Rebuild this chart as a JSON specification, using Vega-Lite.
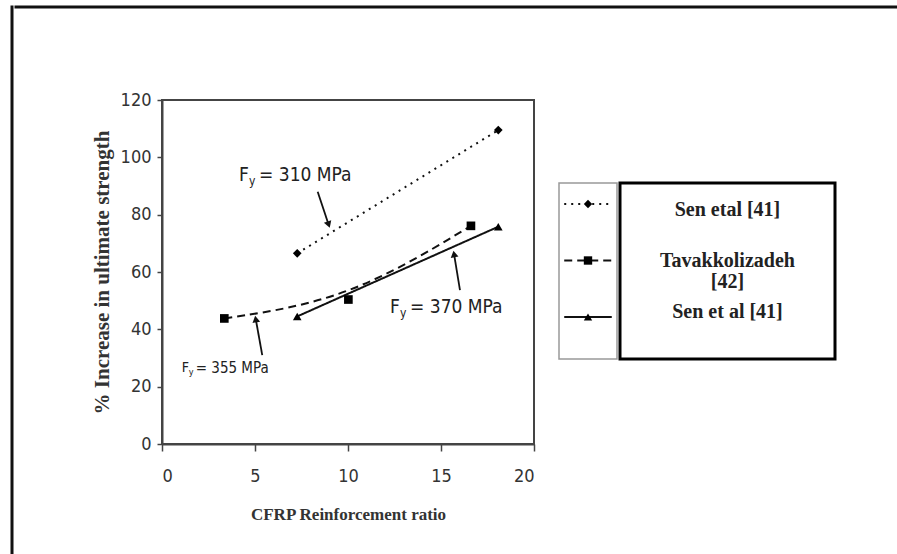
{
  "$schema": "https://vega.github.io/schema/vega-lite/v6.json",
  "background": "white",
  "padding": {"left": 10, "top": 5, "right": 0, "bottom": 0},
  "datasets": {
    "points": [
      {"series": "Sen etal [41]", "ratio": 7.27, "increase": 66.5},
      {"series": "Sen etal [41]", "ratio": 18.08, "increase": 109.5},
      {"series": "Tavakkolizadeh [42]", "ratio": 3.35, "increase": 43.8},
      {"series": "Tavakkolizadeh [42]", "ratio": 10.02, "increase": 50.4},
      {"series": "Tavakkolizadeh [42]", "ratio": 16.61, "increase": 76.1},
      {"series": "Sen et al [41]", "ratio": 7.27, "increase": 44.5},
      {"series": "Sen et al [41]", "ratio": 18.08, "increase": 75.8}
    ],
    "notes": [
      {"ratio": 4.14, "increase": 93.8, "rest": "= 310 MPa"},
      {"ratio": 12.26, "increase": 47.85, "rest": "= 370 MPa"},
      {"ratio": 1.06, "increase": 26.4, "rest": "= 355 MPa"}
    ],
    "arrows": [
      {"note": "310", "ratio": 8.37, "increase": 88.0, "ratio2": 8.96, "increase2": 76.5},
      {"note": "370", "ratio": 16.02, "increase": 53.7, "ratio2": 15.70, "increase2": 66.3},
      {"note": "355", "ratio": 5.39, "increase": 31.0, "ratio2": 5.04, "increase2": 43.6}
    ],
    "legend": [
      {"series": "Sen etal [41]", "label": "Sen etal [41]"},
      {"series": "Tavakkolizadeh [42]", "label": "Tavakkolizadeh\n[42]"},
      {"series": "Sen et al [41]", "label": "Sen et al  [41]"}
    ],
    "empty": []
  },
  "spacing": 0,
  "hconcat": [
    {
      "width": 0.01,
      "height": 548,
      "data": {"name": "empty"},
      "view": {"stroke": "#111", "strokeWidth": 3},
      "mark": "point"
    },
    {
      "spacing": 81,
      "vconcat": [
        {
          "width": 885,
          "height": 0.01,
          "data": {"name": "empty"},
          "view": {"stroke": "#111", "strokeWidth": 3},
          "mark": "point"
        },
        {
          "spacing": 22,
          "hconcat": [
            {
              "width": 52,
              "height": 1,
              "data": {"name": "empty"},
              "view": {"stroke": null},
              "mark": "point"
            },
            {
              "width": 372,
              "height": 344,
              "view": {"stroke": "#444", "strokeWidth": 2},
              "encoding": {
                "x": {
                  "field": "ratio", "type": "quantitative",
                  "scale": {"domain": [0, 20], "nice": false},
                  "axis": {
                    "values": [0, 5, 10, 15, 20], "grid": false, "tickSize": 7, "tickWidth": 1.5,
                    "tickColor": "#444", "domainColor": "#444", "domainWidth": 2,
                    "labelFont": "Liberation Sans Narrow, Arial Narrow, DejaVu Sans Condensed, sans-serif",
                    "labelFontSize": 18, "labelColor": "#333", "labelPadding": 16,
                    "title": "CFRP Reinforcement ratio", "titleFont": "Liberation Serif",
                    "titleFontWeight": "bold", "titleFontSize": 17, "titleColor": "#333", "titlePadding": 21
                  }
                },
                "y": {
                  "field": "increase", "type": "quantitative",
                  "scale": {"domain": [0, 120], "nice": false},
                  "axis": {
                    "values": [0, 20, 40, 60, 80, 100, 120], "grid": false, "tickSize": 5, "tickWidth": 1.5,
                    "tickColor": "#444", "domainColor": "#444", "domainWidth": 2,
                    "labelFont": "Liberation Sans Narrow, Arial Narrow, DejaVu Sans Condensed, sans-serif",
                    "labelFontSize": 18, "labelColor": "#333", "labelPadding": 6,
                    "title": "% Increase in ultimate strength", "titleFont": "Liberation Serif",
                    "titleFontWeight": "bold", "titleFontSize": 21, "titleColor": "#333", "titlePadding": 8
                  }
                }
              },
              "layer": [
                {
                  "data": {"name": "points"},
                  "mark": {"type": "line", "color": "#111", "strokeWidth": 2, "interpolate": "basis"},
                  "encoding": {
                    "strokeDash": {
                      "field": "series", "type": "nominal", "legend": null,
                      "scale": {"domain": ["Sen etal [41]", "Tavakkolizadeh [42]", "Sen et al [41]"], "range": [[2, 5], [8, 5], [1, 0]]}
                    }
                  }
                },
                {
                  "data": {"name": "points"},
                  "mark": {"type": "point", "filled": true, "color": "#000", "opacity": 1, "size": 75},
                  "encoding": {
                    "shape": {
                      "field": "series", "type": "nominal", "legend": null,
                      "scale": {"domain": ["Sen etal [41]", "Tavakkolizadeh [42]", "Sen et al [41]"], "range": ["diamond", "square", "triangle-up"]}
                    }
                  }
                },
                {
                  "data": {"name": "arrows"},
                  "mark": {"type": "rule", "color": "#111", "strokeWidth": 1.8},
                  "encoding": {
                    "x2": {"field": "ratio2"},
                    "y2": {"field": "increase2"}
                  }
                },
                {
                  "data": {"name": "arrows"},
                  "transform": [{"filter": "datum.note == '310'"}],
                  "mark": {"type": "point", "shape": "triangle-up", "filled": true, "color": "#111", "opacity": 1, "size": 60, "angle": 161},
                  "encoding": {
                    "x": {"field": "ratio2", "type": "quantitative"},
                    "y": {"field": "increase2", "type": "quantitative"}
                  }
                },
                {
                  "data": {"name": "arrows"},
                  "transform": [{"filter": "datum.note != '310'"}],
                  "mark": {"type": "point", "shape": "triangle-up", "filled": true, "color": "#111", "opacity": 1, "size": 60, "angle": 350},
                  "encoding": {
                    "x": {"field": "ratio2", "type": "quantitative"},
                    "y": {"field": "increase2", "type": "quantitative"}
                  }
                },
                {
                  "data": {"name": "notes"},
                  "transform": [{"filter": "datum.rest != '= 355 MPa'"}],
                  "mark": {"type": "text", "text": "F", "align": "left", "baseline": "middle", "fontSize": 19, "color": "#222",
                           "font": "Liberation Sans Narrow, Arial Narrow, DejaVu Sans Condensed, sans-serif"}
                },
                {
                  "data": {"name": "notes"},
                  "transform": [{"filter": "datum.rest != '= 355 MPa'"}],
                  "mark": {"type": "text", "text": "y", "align": "left", "baseline": "middle", "fontSize": 12, "dx": 10, "dy": 6, "color": "#222",
                           "font": "Liberation Sans Narrow, Arial Narrow, DejaVu Sans Condensed, sans-serif"}
                },
                {
                  "data": {"name": "notes"},
                  "transform": [{"filter": "datum.rest != '= 355 MPa'"}],
                  "mark": {"type": "text", "align": "left", "baseline": "middle", "fontSize": 19, "dx": 20, "color": "#222",
                           "font": "Liberation Sans Narrow, Arial Narrow, DejaVu Sans Condensed, sans-serif"},
                  "encoding": {"text": {"field": "rest"}}
                },
                {
                  "data": {"name": "notes"},
                  "transform": [{"filter": "datum.rest == '= 355 MPa'"}],
                  "mark": {"type": "text", "text": "F", "align": "left", "baseline": "middle", "fontSize": 14, "color": "#222",
                           "font": "Liberation Sans Narrow, Arial Narrow, DejaVu Sans Condensed, sans-serif"}
                },
                {
                  "data": {"name": "notes"},
                  "transform": [{"filter": "datum.rest == '= 355 MPa'"}],
                  "mark": {"type": "text", "text": "y", "align": "left", "baseline": "middle", "fontSize": 9, "dx": 7, "dy": 4, "color": "#222",
                           "font": "Liberation Sans Narrow, Arial Narrow, DejaVu Sans Condensed, sans-serif"}
                },
                {
                  "data": {"name": "notes"},
                  "transform": [{"filter": "datum.rest == '= 355 MPa'"}],
                  "mark": {"type": "text", "align": "left", "baseline": "middle", "fontSize": 15, "dx": 14, "color": "#222",
                           "font": "Liberation Sans Narrow, Arial Narrow, DejaVu Sans Condensed, sans-serif"},
                  "encoding": {"text": {"field": "rest"}}
                }
              ]
            },
            {
              "spacing": 10,
              "vconcat": [
                {
                  "width": 1,
                  "height": 71,
                  "data": {"name": "empty"},
                  "view": {"stroke": null},
                  "mark": "point"
                },
                {
                  "spacing": 0,
                  "hconcat": [
                    {
                      "width": 58,
                      "height": 176,
                      "data": {"name": "legend"},
                      "view": {"stroke": "#999", "strokeWidth": 1.5},
                      "encoding": {
                        "y": {
                          "field": "series", "type": "nominal", "axis": null,
                          "scale": {"type": "point", "padding": 0, "domain": ["Sen etal [41]", "Tavakkolizadeh [42]", "Sen et al [41]"], "range": [21, 134]}
                        }
                      },
                      "layer": [
                        {
                          "mark": {"type": "rule", "color": "#111", "strokeWidth": 2},
                          "encoding": {
                            "x": {"datum": 0.09, "type": "quantitative", "scale": {"domain": [0, 1]}, "axis": null},
                            "x2": {"datum": 0.91},
                            "strokeDash": {
                              "field": "series", "type": "nominal", "legend": null,
                              "scale": {"domain": ["Sen etal [41]", "Tavakkolizadeh [42]", "Sen et al [41]"], "range": [[2, 5], [8, 5], [1, 0]]}
                            }
                          }
                        },
                        {
                          "mark": {"type": "point", "filled": true, "color": "#000", "opacity": 1, "size": 70},
                          "encoding": {
                            "x": {"datum": 0.5, "type": "quantitative", "scale": {"domain": [0, 1]}, "axis": null},
                            "shape": {
                              "field": "series", "type": "nominal", "legend": null,
                              "scale": {"domain": ["Sen etal [41]", "Tavakkolizadeh [42]", "Sen et al [41]"], "range": ["diamond", "square", "triangle-up"]}
                            }
                          }
                        }
                      ]
                    },
                    {
                      "width": 215,
                      "height": 176,
                      "data": {"name": "legend"},
                      "view": {"stroke": "#000", "strokeWidth": 3},
                      "mark": {"type": "text", "font": "Liberation Serif", "fontWeight": "bold", "fontSize": 20, "lineBreak": "\n", "lineHeight": 21, "color": "#222"},
                      "encoding": {
                        "text": {"field": "label"},
                        "x": {"datum": 0.5, "type": "quantitative", "scale": {"domain": [0, 1]}, "axis": null},
                        "y": {
                          "field": "series", "type": "nominal", "axis": null,
                          "scale": {"type": "point", "padding": 0, "domain": ["Sen etal [41]", "Tavakkolizadeh [42]", "Sen et al [41]"], "range": [27, 129]}
                        }
                      }
                    }
                  ]
                }
              ]
            }
          ]
        }
      ]
    }
  ]
}
